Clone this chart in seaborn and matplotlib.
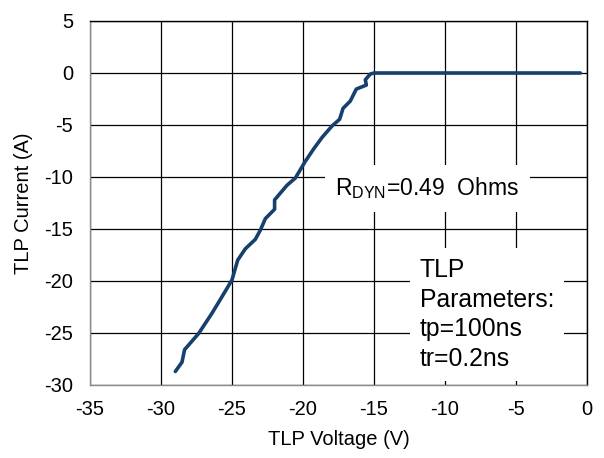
import matplotlib
matplotlib.use("Agg")
import matplotlib.pyplot as plt
import seaborn as sns
import pandas as pd

# Data
voltage = [-28.99, -28.52, -28.34, -27.35, -26.41, -25.7, -25.0, -24.6, -24.06,
           -23.36, -23.0, -22.65, -22.0, -22.0, -21.13, -20.54, -19.84, -19.25,
           -18.66, -17.96, -17.42, -17.18, -16.67, -16.25, -15.54, -15.61,
           -15.26, -15.0, -0.47]
current = [-28.7, -27.8, -26.6, -25.05, -23.1, -21.5, -19.9, -18.0, -16.9,
           -16.0, -15.1, -14.0, -13.1, -12.2, -10.8, -10.1, -8.5, -7.3,
           -6.2, -5.1, -4.45, -3.4, -2.7, -1.55, -1.16, -0.65,
           -0.1, 0.0, 0.0]
x_ticks = [-35, -30, -25, -20, -15, -10, -5, 0]
y_ticks = [-30, -25, -20, -15, -10, -5, 0, 5]

sns.set_style("white")
plt.rcParams['font.family'] = ['Liberation Sans', 'DejaVu Sans']
plt.rcParams['mathtext.fontset'] = 'custom'
plt.rcParams['mathtext.rm'] = 'Liberation Sans'
plt.rcParams['mathtext.it'] = 'Liberation Sans'
plt.rcParams['text.color'] = 'black'
plt.rcParams['axes.labelcolor'] = 'black'
plt.rcParams['xtick.labelcolor'] = 'black'
plt.rcParams['ytick.labelcolor'] = 'black'

df = pd.DataFrame({"V": voltage, "I": current})

fig = plt.figure(figsize=(6.04, 4.58), dpi=100)
ax = fig.add_subplot(111)
fig.subplots_adjust(left=90/604, right=587/604, top=1-21/458, bottom=1-385/458)

sns.lineplot(data=df, x="V", y="I", sort=False, estimator=None,
             color="#17406D", linewidth=2.6, ax=ax, zorder=3)

ax.set_xlim(-35, 0)
ax.set_ylim(-30, 5)
ax.set_xticks(x_ticks)
ax.set_yticks(y_ticks)
ax.set_xticklabels([str(v) for v in x_ticks])
ax.set_yticklabels([str(v) for v in y_ticks])

ax.grid(True, color="black", linewidth=0.9)
ax.set_axisbelow(True)

for s in ["left", "bottom"]:
    ax.spines[s].set_color("#8a8a8a")
    ax.spines[s].set_linewidth(1.0)
for s in ["top", "right"]:
    ax.spines[s].set_color("black")
    ax.spines[s].set_linewidth(1.0)

ax.tick_params(axis="both", which="major", direction="out", length=4,
               width=1.0, color="#8a8a8a", labelsize=14.5, labelcolor="black")
ax.tick_params(axis="x", pad=7)
ax.tick_params(axis="y", pad=8)

ax.set_xlabel("TLP Voltage (V)", fontsize=14.5, labelpad=8, color="black")
ax.set_ylabel("TLP Current (A)", fontsize=14.5, labelpad=8, color="black")

ax.text(-17.73, -11.76, r"R$_{\mathrm{DYN}}$=0.49  Ohms", fontsize=16.5,
        va="baseline", ha="left", zorder=4, color="black",
        bbox=dict(boxstyle="square,pad=0.45", fc="white", ec="none"))

ax.text(-11.79, -28.17, "TLP\nParameters:\ntp=100ns\ntr=0.2ns", fontsize=17.8,
        va="baseline", ha="left", linespacing=1.30, zorder=4, color="black",
        bbox=dict(boxstyle="square,pad=0.4", fc="white", ec="none"))

fig.savefig("out.png", dpi=100)
